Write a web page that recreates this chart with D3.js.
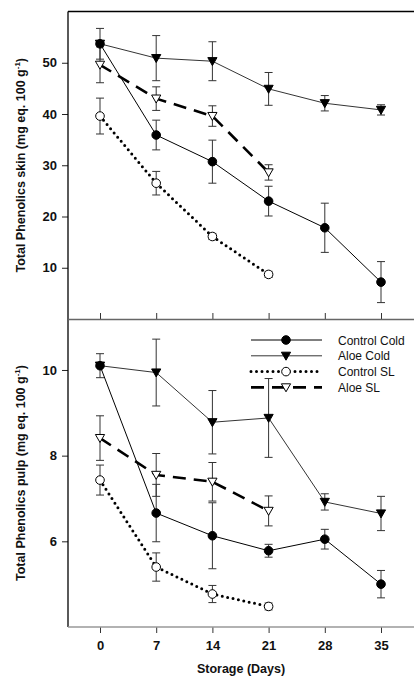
<!DOCTYPE html>
<html>
<head>
<meta charset="utf-8">
<script src="https://cdn.jsdelivr.net/npm/d3@7"></script>
<style>
  body { margin: 0; background: #fff; }
  svg { display: block; font-family: 'Liberation Sans', Arial, sans-serif; }
</style>
</head>
<body>
<svg id="svg" width="414" height="686"></svg>
<script>
const days = [0, 7, 14, 21, 28, 35]
const daysSL = [0, 7, 14, 21]

// skin
const skinControlCold = [53.7, 35.9, 30.7, 23.0, 17.8, 7.2]
const skinControlColdErr = [3.0, 2.9, 4.2, 2.9, 4.8, 4.0]
const skinAloeCold = [53.7, 50.9, 50.3, 44.9, 42.1, 40.8]
const skinAloeColdErr = [0, 4.4, 3.8, 3.2, 1.5, 1.0]
const skinControlSL = [39.6, 26.5, 16.1, 8.7]
const skinControlSLErr = [3.5, 2.3, 0.6, 0.6]
const skinAloeSL = [49.6, 43.0, 39.6, 28.6]
const skinAloeSLErr = [3.5, 2.3, 2.0, 1.5]

// pulp
const pulpControlCold = [10.1, 6.66, 6.13, 5.78, 6.05, 5.0]
const pulpControlColdErr = [0.28, 0.67, 0.77, 0.15, 0.23, 0.32]
const pulpAloeCold = [10.1, 9.94, 8.78, 8.88, 6.92, 6.65]
const pulpAloeColdErr = [0, 0.78, 0.74, 0.92, 0.19, 0.4]
const pulpControlSL = [7.43, 5.4, 4.77, 4.48]
const pulpControlSLErr = [0.35, 0.33, 0.2, 0.08]
const pulpAloeSL = [8.41, 7.55, 7.39, 6.71]
const pulpAloeSLErr = [0.52, 0.5, 0.45, 0.35]

const seriesNames = ['Control Cold', 'Aloe Cold', 'Control SL', 'Aloe SL']
const skinTicks = [10, 20, 30, 40, 50]
const pulpTicks = [6, 8, 10]

let svg = d3.select('#svg')

let x = d3.scaleLinear().domain([0, 35]).range([100, 381])

let styles = {
  'Control Cold': { dash: null, width: 1, cap: 'butt', marker: 'circle', fill: '#000' },
  'Aloe Cold': { dash: null, width: 0.8, cap: 'butt', marker: 'tri', fill: '#000' },
  'Control SL': { dash: '0,5.5', width: 3, cap: 'round', marker: 'circle', fill: '#fff' },
  'Aloe SL': { dash: '13,8', width: 2.6, cap: 'butt', marker: 'tri', fill: '#fff' }
}

let drawMarker = (g, name, cx, cy) => {
  let s = styles[name]
  if (s.marker === 'circle') {
    g.append('circle').attr('cx', cx).attr('cy', cy).attr('r', 4.3)
      .attr('fill', s.fill).attr('stroke', '#000').attr('stroke-width', 1)
  } else {
    g.append('path')
      .attr('d', `M${cx - 4.6},${cy - 3.6}L${cx + 4.6},${cy - 3.6}L${cx},${cy + 4.4}Z`)
      .attr('fill', s.fill).attr('stroke', '#000').attr('stroke-width', 1)
  }
}

let panel = (top, bottom, domain, ticks, series, label) => {
  let y = d3.scaleLinear().domain(domain).range([bottom, top])
  let g = svg.append('g')

  // error bars
  series.forEach(s => {
    s.vals.forEach((v, i) => {
      let e = s.err[i]
      if (!e) return
      let cx = x(s.days[i])
      g.append('line').attr('x1', cx).attr('x2', cx).attr('y1', y(v + e)).attr('y2', y(v - e))
        .attr('stroke', '#333').attr('stroke-width', 1)
      ;[v + e, v - e].forEach(t => {
        g.append('line').attr('x1', cx - 4).attr('x2', cx + 4).attr('y1', y(t)).attr('y2', y(t))
          .attr('stroke', '#333').attr('stroke-width', 1)
      })
    })
  })

  // lines
  series.forEach(s => {
    let st = styles[s.name]
    let line = d3.line().x((d, i) => x(s.days[i])).y(d => y(d))
    g.append('path').datum(s.vals).attr('d', line)
      .attr('fill', 'none').attr('stroke', '#000')
      .attr('stroke-width', st.width)
      .attr('stroke-linecap', st.cap)
      .attr('stroke-dasharray', st.dash)
  })

  // markers
  series.slice().reverse().forEach(s => {
    s.vals.forEach((v, i) => drawMarker(g, s.name, x(s.days[i]), y(v)))
  })

  // y axis
  let ya = g.append('g').attr('transform', 'translate(68,0)')
    .call(d3.axisLeft(y).tickValues(ticks).tickSize(6).tickPadding(5).tickFormat(d3.format('d')))
  ya.select('.domain').remove()
  ya.selectAll('text').attr('font-size', 13).attr('font-weight', 'bold')
    .attr('font-family', "'Liberation Sans', Arial, sans-serif").attr('fill', '#111')
  ya.selectAll('line').attr('stroke', '#222')
  g.append('line').attr('x1', 68).attr('x2', 68).attr('y1', top).attr('y2', bottom)
    .attr('stroke', '#000').attr('stroke-width', 1.3)

  // axis title
  let t = g.append('text')
    .attr('transform', `translate(25,${(top + bottom) / 2}) rotate(-90)`)
    .attr('text-anchor', 'middle').attr('font-size', 12.5).attr('font-weight', 'bold').attr('fill', '#111')
  t.append('tspan').text(label + ' (mg eq. 100 g')
  t.append('tspan').text('-1').attr('font-size', 8).attr('dy', -5)
  t.append('tspan').text(')').attr('dy', 5)
  return y
}

// frame
svg.append('line').attr('x1', 68).attr('x2', 414).attr('y1', 11.5).attr('y2', 11.5)
  .attr('stroke', '#000').attr('stroke-width', 1.5)

panel(11.5, 319, [0, 60], skinTicks, [
  { name: 'Control Cold', days: days, vals: skinControlCold, err: skinControlColdErr },
  { name: 'Aloe Cold', days: days, vals: skinAloeCold, err: skinAloeColdErr },
  { name: 'Control SL', days: daysSL, vals: skinControlSL, err: skinControlSLErr },
  { name: 'Aloe SL', days: daysSL, vals: skinAloeSL, err: skinAloeSLErr }
], 'Total Phenolics skin')

panel(319, 627, [4, 11.19], pulpTicks, [
  { name: 'Control Cold', days: days, vals: pulpControlCold, err: pulpControlColdErr },
  { name: 'Aloe Cold', days: days, vals: pulpAloeCold, err: pulpAloeColdErr },
  { name: 'Control SL', days: daysSL, vals: pulpControlSL, err: pulpControlSLErr },
  { name: 'Aloe SL', days: daysSL, vals: pulpAloeSL, err: pulpAloeSLErr }
], 'Total Phenolics pulp')

// top panel x ticks (inside) + separator
let xTop = svg.append('g').attr('transform', 'translate(0,319)')
  .call(d3.axisTop(x).tickValues(days).tickSize(6).tickFormat(''))
xTop.select('.domain').remove()
xTop.selectAll('line').attr('stroke', '#333')
svg.append('line').attr('x1', 68).attr('x2', 414).attr('y1', 319.5).attr('y2', 319.5)
  .attr('stroke', '#666').attr('stroke-width', 1.5)

// bottom x axis
let xBot = svg.append('g').attr('transform', 'translate(0,627)')
  .call(d3.axisBottom(x).tickValues(days).tickSize(6).tickPadding(8).tickFormat(d3.format('d')))
xBot.select('.domain').remove()
xBot.selectAll('line').attr('stroke', '#333')
xBot.selectAll('text').attr('font-size', 13).attr('font-weight', 'bold')
  .attr('font-family', "'Liberation Sans', Arial, sans-serif").attr('fill', '#111')
svg.append('line').attr('x1', 68).attr('x2', 414).attr('y1', 627).attr('y2', 627)
  .attr('stroke', '#999').attr('stroke-width', 1.3)

svg.append('text').attr('x', 241).attr('y', 673).attr('text-anchor', 'middle')
  .attr('font-size', 12.5).attr('font-weight', 'bold').attr('fill', '#111').text('Storage (Days)')

// legend
let legend = svg.append('g')
seriesNames.forEach((name, i) => {
  let ly = 340 + i * 15.8
  let st = styles[name]
  legend.append('line').attr('x1', 251).attr('x2', 322).attr('y1', ly).attr('y2', ly)
    .attr('stroke', '#000').attr('stroke-width', st.width)
    .attr('stroke-linecap', st.cap).attr('stroke-dasharray', st.dash)
  drawMarker(legend, name, 286, ly)
  legend.append('text').attr('x', 338).attr('y', ly + 4.5)
    .attr('font-size', 12).attr('fill', '#111').text(name)
})
</script>
</body>
</html>
